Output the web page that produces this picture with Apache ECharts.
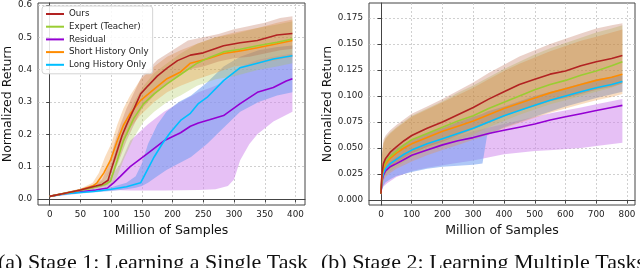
<!DOCTYPE html>
<html><head><meta charset="utf-8">
<script src="https://cdn.jsdelivr.net/npm/echarts@6/dist/echarts.min.js"></script>
<style>html,body{margin:0;padding:0;background:#fff;overflow:hidden}#c{width:640px;height:268px}</style>
</head><body><div id="c"></div>
<script>
// ---------- labels ----------
const seriesNames = ['Ours', 'Expert (Teacher)', 'Residual', 'Short History Only', 'Long History Only'];
const xTitle = 'Million of Samples';
const yTitle = 'Normalized Return';
const captionA = '(a) Stage 1: Learning a Single Task';
const captionB = '(b) Stage 2: Learning Multiple Tasks';

// ---------- tick labels ----------
const s1XTicks = [0, 50, 100, 150, 200, 250, 300, 350, 400];
const s1YTicks = [0, 0.1, 0.2, 0.3, 0.4, 0.5, 0.6];
const s2XTicks = [0, 100, 200, 300, 400, 500, 600, 700, 800];
const s2YTicks = [0, 0.025, 0.05, 0.075, 0.1, 0.125, 0.15, 0.175];

// ---------- Stage 1 mean curves [x, value] ----------
const s1Ours = [[0,0.008],[25,0.018],[50,0.028],[75,0.04],[85,0.045],[95,0.058],[100,0.09],[105,0.12],[110,0.15],[118,0.197],[126,0.233],[136,0.274],[148,0.325],[160,0.35],[175,0.38],[191,0.405],[208,0.428],[229,0.445],[250,0.452],[283,0.474],[310,0.483],[338,0.49],[370,0.507],[395,0.512]];
const s1Expert = [[0,0.008],[25,0.018],[50,0.027],[75,0.037],[90,0.045],[99,0.055],[110,0.12],[120,0.18],[137,0.25],[153,0.295],[170,0.325],[191,0.356],[213,0.385],[240,0.42],[260,0.438],[283,0.455],[310,0.463],[338,0.474],[370,0.485],[395,0.495]];
const s1Residual = [[0,0.008],[25,0.017],[50,0.022],[75,0.028],[94,0.034],[104,0.05],[115,0.07],[131,0.1],[159,0.14],[186,0.18],[213,0.205],[229,0.225],[242,0.235],[260,0.245],[283,0.258],[310,0.295],[338,0.33],[364,0.345],[385,0.365],[395,0.372]];
const s1Short = [[0,0.008],[25,0.018],[50,0.028],[70,0.04],[77,0.05],[88,0.08],[99,0.12],[110,0.18],[120,0.228],[131,0.264],[148,0.305],[170,0.34],[191,0.372],[213,0.393],[229,0.42],[260,0.435],[283,0.45],[310,0.458],[338,0.468],[370,0.48],[395,0.49]];
const s1Long = [[0,0.008],[25,0.016],[50,0.02],[75,0.024],[100,0.03],[125,0.038],[148,0.05],[159,0.09],[170,0.13],[183,0.17],[196,0.205],[213,0.243],[229,0.265],[242,0.295],[256,0.314],[283,0.366],[310,0.406],[338,0.42],[364,0.433],[395,0.443]];

// ---------- Stage 1 spread bands [x, low, high] ----------
const s1OursBand = [[0,0.006,0.011],[25,0.015,0.021],[50,0.024,0.032],[75,0.034,0.047],[85,0.038,0.06],[95,0.045,0.1],[105,0.08,0.17],[115,0.13,0.23],[125,0.18,0.28],[135,0.22,0.32],[150,0.28,0.38],[175,0.33,0.43],[200,0.37,0.46],[225,0.4,0.49],[250,0.41,0.5],[275,0.425,0.51],[300,0.435,0.525],[325,0.44,0.535],[350,0.45,0.545],[375,0.46,0.56],[395,0.465,0.565]];
const s1ExpertBand = [[0,0.006,0.011],[25,0.015,0.021],[50,0.023,0.031],[75,0.031,0.044],[90,0.037,0.06],[100,0.04,0.1],[110,0.07,0.17],[120,0.12,0.23],[137,0.19,0.3],[153,0.24,0.35],[170,0.27,0.39],[191,0.3,0.42],[213,0.32,0.45],[240,0.35,0.48],[270,0.37,0.5],[300,0.38,0.51],[340,0.4,0.53],[370,0.41,0.54],[395,0.42,0.55]];
const s1ShortBand = [[0,0.006,0.011],[25,0.015,0.021],[50,0.023,0.032],[70,0.032,0.05],[80,0.04,0.08],[90,0.06,0.13],[100,0.09,0.17],[110,0.13,0.23],[120,0.18,0.28],[131,0.22,0.32],[148,0.26,0.37],[170,0.3,0.41],[191,0.33,0.44],[213,0.35,0.46],[240,0.37,0.48],[270,0.39,0.5],[300,0.41,0.515],[340,0.42,0.53],[370,0.43,0.545],[395,0.44,0.555]];
const s1LongBand = [[0,0.006,0.011],[50,0.017,0.024],[100,0.025,0.036],[125,0.03,0.05],[140,0.035,0.07],[150,0.04,0.11],[160,0.05,0.17],[175,0.07,0.23],[190,0.09,0.27],[210,0.11,0.3],[230,0.13,0.32],[256,0.17,0.36],[283,0.22,0.41],[310,0.27,0.44],[340,0.3,0.46],[370,0.32,0.47],[395,0.33,0.475]];
const s1ResidualBand = [[0,0.006,0.011],[50,0.019,0.026],[90,0.025,0.045],[104,0.027,0.08],[115,0.027,0.11],[131,0.026,0.18],[159,0.026,0.23],[186,0.026,0.27],[213,0.027,0.3],[242,0.028,0.33],[270,0.03,0.35],[290,0.04,0.37],[300,0.06,0.39],[310,0.12,0.41],[325,0.17,0.42],[338,0.2,0.43],[364,0.24,0.44],[395,0.27,0.45]];

// ---------- Stage 2 mean curves [x, value] ----------
const s2Ours = [[0,0.006],[3,0.025],[8,0.035],[15,0.04],[30,0.046],[50,0.051],[75,0.057],[100,0.062],[150,0.069],[200,0.075],[250,0.082],[300,0.089],[350,0.097],[400,0.104],[450,0.111],[500,0.116],[550,0.121],[600,0.124],[650,0.129],[700,0.133],[750,0.136],[785,0.139]];
const s2Expert = [[0,0.006],[3,0.024],[8,0.032],[15,0.037],[30,0.042],[50,0.047],[75,0.053],[100,0.058],[150,0.064],[200,0.07],[250,0.076],[300,0.081],[350,0.088],[400,0.094],[450,0.1],[500,0.106],[550,0.111],[600,0.115],[650,0.12],[700,0.124],[750,0.129],[785,0.133]];
const s2Residual = [[0,0.006],[3,0.018],[8,0.024],[15,0.028],[30,0.032],[50,0.035],[75,0.039],[100,0.043],[150,0.048],[200,0.053],[250,0.057],[300,0.06],[350,0.064],[400,0.067],[450,0.07],[500,0.073],[550,0.077],[600,0.08],[650,0.083],[700,0.086],[750,0.089],[785,0.091]];
const s2Short = [[0,0.006],[3,0.023],[8,0.03],[15,0.035],[30,0.04],[50,0.045],[75,0.05],[100,0.054],[150,0.06],[200,0.066],[250,0.071],[300,0.076],[350,0.082],[400,0.088],[450,0.093],[500,0.098],[550,0.103],[600,0.107],[650,0.111],[700,0.115],[750,0.118],[785,0.121]];
const s2Long = [[0,0.006],[3,0.02],[8,0.026],[15,0.03],[30,0.035],[50,0.039],[75,0.044],[100,0.048],[150,0.054],[200,0.059],[250,0.064],[300,0.069],[350,0.075],[400,0.081],[450,0.086],[500,0.091],[550,0.096],[600,0.1],[650,0.104],[700,0.108],[750,0.111],[785,0.114]];

// ---------- Stage 2 spread bands [x, low, high] ----------
const s2OursBand = [[0,0.004,0.01],[3,0.015,0.045],[8,0.022,0.058],[15,0.027,0.062],[30,0.032,0.067],[50,0.036,0.072],[100,0.045,0.083],[150,0.051,0.09],[200,0.056,0.097],[250,0.062,0.105],[300,0.068,0.113],[350,0.074,0.122],[400,0.08,0.13],[450,0.086,0.138],[500,0.09,0.144],[550,0.095,0.15],[600,0.098,0.155],[650,0.102,0.16],[700,0.106,0.165],[750,0.109,0.168],[785,0.112,0.17]];
const s2ExpertBand = [[0,0.004,0.01],[3,0.014,0.043],[8,0.02,0.055],[15,0.024,0.06],[30,0.028,0.065],[50,0.032,0.07],[100,0.041,0.081],[150,0.047,0.088],[200,0.052,0.095],[250,0.058,0.103],[300,0.063,0.11],[350,0.07,0.118],[400,0.076,0.126],[450,0.082,0.133],[500,0.087,0.14],[550,0.092,0.146],[600,0.096,0.151],[650,0.1,0.156],[700,0.104,0.161],[750,0.108,0.165],[785,0.112,0.168]];
const s2ShortBand = [[0,0.004,0.01],[3,0.013,0.042],[8,0.018,0.054],[15,0.022,0.059],[30,0.026,0.064],[50,0.03,0.069],[100,0.037,0.08],[150,0.043,0.087],[200,0.048,0.094],[250,0.053,0.101],[300,0.058,0.108],[350,0.063,0.116],[400,0.069,0.124],[450,0.074,0.131],[500,0.079,0.137],[550,0.084,0.143],[600,0.088,0.148],[650,0.092,0.153],[700,0.096,0.157],[750,0.099,0.161],[785,0.102,0.164]];
const s2LongBand = [[0,0.004,0.009],[3,0.01,0.03],[8,0.014,0.037],[15,0.017,0.041],[30,0.02,0.046],[50,0.023,0.05],[100,0.027,0.058],[150,0.03,0.064],[200,0.032,0.069],[250,0.033,0.075],[300,0.034,0.08],[330,0.035,0.083],[345,0.062,0.085],[400,0.07,0.09],[500,0.08,0.1],[600,0.09,0.108],[700,0.098,0.116],[785,0.104,0.12]];
const s2ResidualBand = [[0,0.004,0.009],[3,0.01,0.025],[8,0.013,0.03],[20,0.016,0.035],[50,0.022,0.041],[100,0.028,0.047],[150,0.031,0.053],[235,0.035,0.06],[300,0.038,0.066],[400,0.044,0.073],[500,0.047,0.08],[560,0.048,0.084],[650,0.05,0.089],[700,0.052,0.092],[785,0.055,0.097]];

// ---------- styles ----------
const lineColors = ['#b22222', '#9acd32', '#9400d3', '#ff8c00', '#00bfff'];
const bandColors = ['rgba(180,90,60,0.28)', 'rgba(170,200,80,0.30)', 'rgba(205,130,235,0.50)', 'rgba(235,150,60,0.32)', 'rgba(110,155,240,0.55)'];
const frameColor = '#444';

function bandSeries(name, rows, color, gi) {
  return {
    type: 'custom', name: name, xAxisIndex: gi, yAxisIndex: gi, data: rows, silent: true, z: 1,
    encode: { x: 0, y: [1, 2] },
    renderItem: function (params, api) {
      if (params.dataIndex !== 0) return null;
      const top = rows.map(function (r) { return api.coord([r[0], r[2]]); });
      const bot = rows.map(function (r) { return api.coord([r[0], r[1]]); }).reverse();
      return { type: 'polygon', shape: { points: top.concat(bot) }, style: { fill: color } };
    }
  };
}
function lineSeries(idx, data, gi) {
  return {
    type: 'line', name: seriesNames[idx], data: data, xAxisIndex: gi, yAxisIndex: gi,
    symbol: 'none', z: 3, animation: false,
    lineStyle: { width: 1.6, color: lineColors[idx] }, itemStyle: { color: lineColors[idx] }
  };
}
function xAxis(gi, min, max, ticks) {
  return {
    type: 'value', gridIndex: gi, min: min, max: max,
    name: xTitle, nameLocation: 'middle', nameGap: 14,
    nameTextStyle: { fontFamily: 'DejaVu Sans', fontSize: 12.5, color: '#111' },
    axisLine: { show: true, lineStyle: { color: frameColor, width: 1 } },
    axisTick: { show: true, length: 3.5, customValues: ticks, lineStyle: { color: frameColor } },
    axisLabel: { customValues: ticks, margin: 5, fontFamily: 'DejaVu Sans', fontSize: 8.8, color: '#222',
      formatter: function (v) { return String(Math.round(v)); } },
    splitLine: { show: true, lineStyle: { color: '#c4c4c4', width: 0.8, type: [2, 2] } }
  };
}
function yAxis(gi, min, max, ticks, digits, gap) {
  return {
    type: 'value', gridIndex: gi, min: min, max: max,
    name: yTitle, nameLocation: 'middle', nameGap: gap,
    nameTextStyle: { fontFamily: 'DejaVu Sans', fontSize: 12.5, color: '#111' },
    axisLine: { show: true, lineStyle: { color: frameColor, width: 1 } },
    axisTick: { show: true, length: 3.5, customValues: ticks, lineStyle: { color: frameColor } },
    axisLabel: { customValues: ticks, margin: 6, fontFamily: 'DejaVu Sans', fontSize: 8.8, color: '#222',
      formatter: function (v) { return v.toFixed(digits); } },
    splitLine: { show: true, lineStyle: { color: '#c4c4c4', width: 0.8, type: [2, 2] } }
  };
}

const chart = echarts.init(document.getElementById('c'), null, { renderer: 'canvas' });
chart.setOption({
  animation: false,
  backgroundColor: '#fff',
  grid: [
    { left: 38, top: 3, width: 267, height: 202, show: true, borderColor: frameColor, borderWidth: 1, backgroundColor: '#fff' },
    { left: 369, top: 3, width: 266, height: 202, show: true, borderColor: frameColor, borderWidth: 1, backgroundColor: '#fff' }
  ],
  xAxis: [xAxis(0, -19, 415.5, s1XTicks), xAxis(1, -39, 826, s2XTicks)],
  yAxis: [yAxis(0, -0.0186, 0.6062, s1YTicks, 1, 23), yAxis(1, -0.0048, 0.1894, s2YTicks, 3, 31)],
  legend: {
    data: seriesNames.map(function (n) { return { name: n, icon: 'rect' }; }),
    orient: 'vertical', left: 42, top: 6,
    itemWidth: 18, itemHeight: 2, itemGap: 0.7,
    padding: [2, 4, 3, 4],
    backgroundColor: 'rgba(255,255,255,0.85)', borderColor: '#d4d4d4', borderWidth: 1, borderRadius: 3,
    textStyle: { fontFamily: 'DejaVu Sans', fontSize: 8.7, lineHeight: 12, color: '#222' }
  },
  graphic: [
    { type: 'text', left: -2, top: 252, style: { text: captionA, font: '22px "Liberation Serif"', fill: '#111' } },
    { type: 'text', left: 321, top: 252, style: { text: captionB, font: '22px "Liberation Serif"', fill: '#111' } }
  ],
  series: [
    bandSeries('b1r', s1ResidualBand, bandColors[2], 0),
    bandSeries('b1l', s1LongBand, bandColors[4], 0),
    bandSeries('b1e', s1ExpertBand, bandColors[1], 0),
    bandSeries('b1s', s1ShortBand, bandColors[3], 0),
    bandSeries('b1o', s1OursBand, bandColors[0], 0),
    lineSeries(2, s1Residual, 0),
    lineSeries(4, s1Long, 0),
    lineSeries(3, s1Short, 0),
    lineSeries(1, s1Expert, 0),
    lineSeries(0, s1Ours, 0),
    bandSeries('b2r', s2ResidualBand, bandColors[2], 1),
    bandSeries('b2l', s2LongBand, bandColors[4], 1),
    bandSeries('b2e', s2ExpertBand, bandColors[1], 1),
    bandSeries('b2s', s2ShortBand, bandColors[3], 1),
    bandSeries('b2o', s2OursBand, bandColors[0], 1),
    lineSeries(2, s2Residual, 1),
    lineSeries(4, s2Long, 1),
    lineSeries(3, s2Short, 1),
    lineSeries(1, s2Expert, 1),
    lineSeries(0, s2Ours, 1)
  ]
});
</script></body></html>
